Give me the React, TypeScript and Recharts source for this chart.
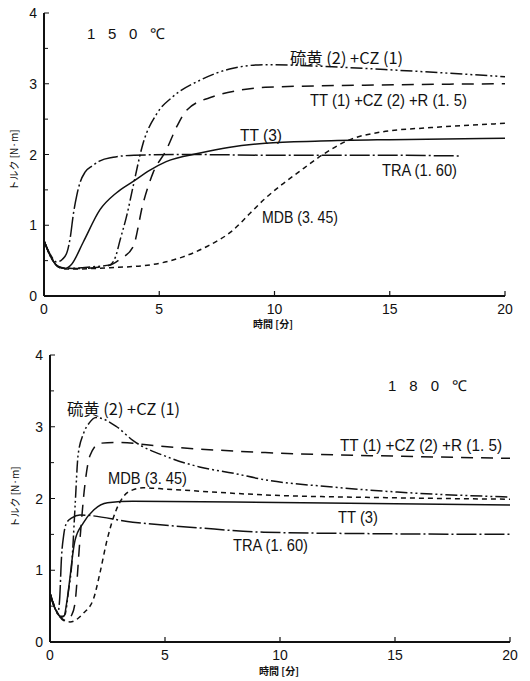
import React from "react";
import { LineChart, Line, XAxis, YAxis } from "recharts";

// 150 ℃ curves, time [min] / torque [N·m]
const sulfur150 = [
  { t: 0, v: 0.78 }, { t: 0.3, v: 0.55 }, { t: 0.6, v: 0.42 }, { t: 1.0, v: 0.39 },
  { t: 2.0, v: 0.41 }, { t: 2.86, v: 0.44 }, { t: 3.1, v: 0.55 }, { t: 3.3, v: 0.79 },
  { t: 3.6, v: 1.15 }, { t: 3.86, v: 1.54 }, { t: 4.3, v: 2.16 }, { t: 4.9, v: 2.58 },
  { t: 5.6, v: 2.82 }, { t: 6.77, v: 3.05 }, { t: 8.2, v: 3.22 }, { t: 9.6, v: 3.27 },
  { t: 12.5, v: 3.24 }, { t: 15.4, v: 3.19 }, { t: 20, v: 3.1 },
];
const ttczr150 = [
  { t: 0, v: 0.78 }, { t: 0.3, v: 0.55 }, { t: 0.7, v: 0.4 }, { t: 1.5, v: 0.39 },
  { t: 2.8, v: 0.43 }, { t: 3.3, v: 0.52 }, { t: 3.87, v: 0.7 }, { t: 4.3, v: 1.31 },
  { t: 4.73, v: 1.74 }, { t: 5.3, v: 2.06 }, { t: 5.77, v: 2.4 }, { t: 6.2, v: 2.63 },
  { t: 7.35, v: 2.82 }, { t: 8.5, v: 2.91 }, { t: 9.6, v: 2.95 }, { t: 13.9, v: 2.98 },
  { t: 20, v: 3.0 },
];
const tt150 = [
  { t: 0, v: 0.78 }, { t: 0.3, v: 0.55 }, { t: 0.6, v: 0.42 }, { t: 0.9, v: 0.39 },
  { t: 1.2, v: 0.45 }, { t: 1.7, v: 0.76 }, { t: 2.43, v: 1.22 }, { t: 3.15, v: 1.46 },
  { t: 3.87, v: 1.62 }, { t: 4.6, v: 1.78 }, { t: 5.3, v: 1.9 }, { t: 6.77, v: 2.02 },
  { t: 8, v: 2.1 }, { t: 9.6, v: 2.16 }, { t: 12, v: 2.19 }, { t: 15, v: 2.21 },
  { t: 20, v: 2.23 },
];
const tra150 = [
  { t: 0, v: 0.78 }, { t: 0.25, v: 0.6 }, { t: 0.55, v: 0.48 }, { t: 0.8, v: 0.52 },
  { t: 1.0, v: 0.62 }, { t: 1.15, v: 0.85 }, { t: 1.27, v: 1.15 }, { t: 1.42, v: 1.42 },
  { t: 1.56, v: 1.6 }, { t: 1.78, v: 1.75 }, { t: 2.1, v: 1.84 }, { t: 2.43, v: 1.91 },
  { t: 3.0, v: 1.96 }, { t: 3.9, v: 1.99 }, { t: 6, v: 2.0 }, { t: 10, v: 1.99 },
  { t: 14, v: 1.99 }, { t: 18, v: 1.98 },
];
const mdb150 = [
  { t: 0, v: 0.78 }, { t: 0.3, v: 0.55 }, { t: 0.7, v: 0.4 }, { t: 1.0, v: 0.38 },
  { t: 2.86, v: 0.4 }, { t: 4.6, v: 0.44 }, { t: 6.0, v: 0.55 }, { t: 7.07, v: 0.7 },
  { t: 8.2, v: 0.93 }, { t: 8.94, v: 1.17 }, { t: 9.6, v: 1.38 }, { t: 10.3, v: 1.57 },
  { t: 11.0, v: 1.74 }, { t: 12.2, v: 2.02 }, { t: 13.2, v: 2.2 }, { t: 14.66, v: 2.32 },
  { t: 16.8, v: 2.38 }, { t: 20, v: 2.44 },
];

// 180 ℃ curves
const sulfur180 = [
  { t: 0, v: 0.68 }, { t: 0.2, v: 0.48 }, { t: 0.5, v: 0.34 }, { t: 0.65, v: 0.38 },
  { t: 0.8, v: 0.7 }, { t: 0.95, v: 1.1 }, { t: 1.09, v: 1.89 }, { t: 1.22, v: 2.6 },
  { t: 1.45, v: 2.9 }, { t: 1.7, v: 3.05 }, { t: 2.0, v: 3.13 }, { t: 2.9, v: 3.0 },
  { t: 3.6, v: 2.81 }, { t: 5.1, v: 2.58 }, { t: 6.5, v: 2.44 }, { t: 8, v: 2.35 },
  { t: 9.35, v: 2.26 }, { t: 12.3, v: 2.16 }, { t: 15.1, v: 2.09 }, { t: 20, v: 2.02 },
];
const ttczr180 = [
  { t: 0, v: 0.68 }, { t: 0.3, v: 0.42 }, { t: 0.7, v: 0.3 }, { t: 0.95, v: 0.38 },
  { t: 1.09, v: 0.55 }, { t: 1.3, v: 1.42 }, { t: 1.52, v: 2.2 }, { t: 1.74, v: 2.6 },
  { t: 2.17, v: 2.77 }, { t: 2.9, v: 2.78 }, { t: 5.1, v: 2.72 }, { t: 9.35, v: 2.64 },
  { t: 15, v: 2.59 }, { t: 20, v: 2.56 },
];
const tt180 = [
  { t: 0, v: 0.68 }, { t: 0.2, v: 0.48 }, { t: 0.45, v: 0.36 }, { t: 0.6, v: 0.36 },
  { t: 0.75, v: 0.6 }, { t: 0.87, v: 0.9 }, { t: 1.0, v: 1.25 }, { t: 1.09, v: 1.42 },
  { t: 1.45, v: 1.66 }, { t: 1.9, v: 1.84 }, { t: 2.5, v: 1.94 }, { t: 3.6, v: 1.96 },
  { t: 8, v: 1.95 }, { t: 14, v: 1.93 }, { t: 20, v: 1.91 },
];
const tra180 = [
  { t: 0, v: 0.68 }, { t: 0.15, v: 0.52 }, { t: 0.35, v: 0.42 }, { t: 0.42, v: 0.6 },
  { t: 0.5, v: 1.18 }, { t: 0.6, v: 1.5 }, { t: 0.72, v: 1.66 }, { t: 0.95, v: 1.73 },
  { t: 1.3, v: 1.77 }, { t: 3.6, v: 1.67 }, { t: 6.5, v: 1.59 }, { t: 9.3, v: 1.53 },
  { t: 14, v: 1.51 }, { t: 20, v: 1.5 },
];
const mdb180 = [
  { t: 0, v: 0.68 }, { t: 0.3, v: 0.42 }, { t: 0.6, v: 0.3 }, { t: 0.87, v: 0.28 },
  { t: 1.45, v: 0.4 }, { t: 1.9, v: 0.61 }, { t: 2.17, v: 0.96 }, { t: 2.48, v: 1.42 },
  { t: 2.83, v: 1.8 }, { t: 3.2, v: 2.03 }, { t: 3.6, v: 2.12 }, { t: 4.05, v: 2.15 },
  { t: 5.1, v: 2.13 }, { t: 9.35, v: 2.05 }, { t: 15, v: 2.01 }, { t: 20, v: 1.99 },
];

const xTicks = [0, 5, 10, 15, 20];
const yTicks = [0, 0.5, 1, 1.5, 2, 2.5, 3, 3.5, 4];

const ink = "#111";
const tickFont = "'Liberation Sans', Arial, sans-serif";
const labelFont = "'Liberation Sans Narrow', 'Liberation Sans', sans-serif";
const jpFont = "'Noto Sans CJK JP', sans-serif";

const dash = {
  sulfur: "12 3 2 3 2 3",
  ttczr: "12 8",
  tra: "20 3 2 3",
  mdb: "5 4",
};

function XTick({ x, y, payload }: any) {
  return (
    <g>
      <line x1={x} x2={x} y1={y} y2={y - 5} stroke={ink} strokeWidth={1.2} />
      <text x={x} y={y + 13} textAnchor="middle" dominantBaseline="central" fontSize={14} fontFamily={tickFont} fill={ink}>
        {payload.value}
      </text>
    </g>
  );
}

function YTick({ x, y, payload }: any) {
  const major = Number.isInteger(payload.value);
  return (
    <g>
      <line x1={x} x2={x + (major ? 5 : 4)} y1={y} y2={y} stroke={ink} strokeWidth={1} />
      {major && (
        <text x={x - 7} y={y} textAnchor="end" dominantBaseline="central" fontSize={14} fontFamily={tickFont} fill={ink}>
          {payload.value}
        </text>
      )}
    </g>
  );
}

function Tag({ x, y, w, children, jp }: any) {
  return (
    <text
      x={x}
      y={y}
      dominantBaseline="central"
      fontSize={jp ? 16 : 16.5}
      fontFamily={jp ? jpFont : labelFont}
      fill={ink}
      textLength={w}
      lengthAdjust="spacingAndGlyphs"
    >
      {children}
    </text>
  );
}

function Curves({ s, c, tt, tra, m }: any) {
  const common = { type: "monotone" as const, dataKey: "v", stroke: ink, strokeWidth: 1.5, dot: false, isAnimationActive: false };
  return [
    <Line key="s" data={s} strokeDasharray={dash.sulfur} {...common} />,
    <Line key="c" data={c} strokeDasharray={dash.ttczr} {...common} />,
    <Line key="tt" data={tt} {...common} />,
    <Line key="tra" data={tra} strokeDasharray={dash.tra} {...common} />,
    <Line key="m" data={m} strokeDasharray={dash.mdb} {...common} />,
  ];
}

function Axes({ yw, xh }: { yw: number; xh: number }) {
  return [
    <XAxis
      key="x"
      dataKey="t"
      type="number"
      domain={[0, 20]}
      ticks={xTicks}
      allowDuplicatedCategory={false}
      height={xh}
      tickSize={0}
      tickMargin={0}
      tick={<XTick />}
      tickLine={false}
      axisLine={{ stroke: ink, strokeWidth: 2 }}
    />,
    <YAxis
      key="y"
      type="number"
      domain={[0, 4]}
      ticks={yTicks}
      width={yw}
      tickSize={0}
      tickMargin={0}
      tick={<YTick />}
      tickLine={false}
      interval={0}
      axisLine={{ stroke: ink, strokeWidth: 2 }}
    />,
  ];
}

function AxisTitles({ yx, yy, xx, xy }: any) {
  return (
    <g>
      <text
        x={yx}
        y={yy}
        transform={`rotate(-90 ${yx} ${yy})`}
        textAnchor="middle"
        dominantBaseline="central"
        fontSize={10}
        fontFamily={jpFont}
        fill={ink}
      >
        トルク [N·m]
      </text>
      <text x={xx} y={xy} textAnchor="middle" dominantBaseline="central" fontSize={10} fontWeight="bold" fontFamily={jpFont} fill={ink}>
        時間 [分]
      </text>
    </g>
  );
}

export default function App() {
  return (
    <div style={{ position: "absolute", left: 0, top: 0, width: 530, height: 681, background: "#fff" }}>
      <LineChart width={530} height={340} margin={{ top: 13, right: 25, left: 0, bottom: 0 }}>
        {Axes({ yw: 44, xh: 44 })}
        {Curves({ s: sulfur150, c: ttczr150, tt: tt150, tra: tra150, m: mdb150 })}
        <text x={87} y={33} dominantBaseline="central" fontSize={15} fontFamily={tickFont} fill={ink} textLength={78} lengthAdjust="spacing">
          150℃
        </text>
        <Tag x={290} y={57} w={113} jp>硫黄 (2) +CZ (1)</Tag>
        <Tag x={310} y={100} w={157}>TT (1) +CZ (2) +R (1. 5)</Tag>
        <Tag x={240} y={135} w={42}>TT (3)</Tag>
        <Tag x={382} y={170} w={75}>TRA (1. 60)</Tag>
        <Tag x={262} y={217} w={76}>MDB (3. 45)</Tag>
        <AxisTitles yx={13} yy={160} xx={273} xy={323} />
      </LineChart>
      <div style={{ position: "absolute", left: 0, top: 340 }}>
        <LineChart width={530} height={341} margin={{ top: 15, right: 20, left: 0, bottom: 0 }}>
          {Axes({ yw: 50, xh: 39 })}
          {Curves({ s: sulfur180, c: ttczr180, tt: tt180, tra: tra180, m: mdb180 })}
          <text x={388} y={45} dominantBaseline="central" fontSize={15} fontFamily={tickFont} fill={ink} textLength={79} lengthAdjust="spacing">
            180℃
          </text>
          <Tag x={67} y={68} w={113} jp>硫黄 (2) +CZ (1)</Tag>
          <Tag x={340} y={105} w={162}>TT (1) +CZ (2) +R (1. 5)</Tag>
          <Tag x={338} y={177} w={40}>TT (3)</Tag>
          <Tag x={233} y={205} w={75}>TRA (1. 60)</Tag>
          <Tag x={108} y={138} w={79}>MDB (3. 45)</Tag>
          <AxisTitles yx={14} yy={157} xx={279} xy={330} />
        </LineChart>
      </div>
    </div>
  );
}
